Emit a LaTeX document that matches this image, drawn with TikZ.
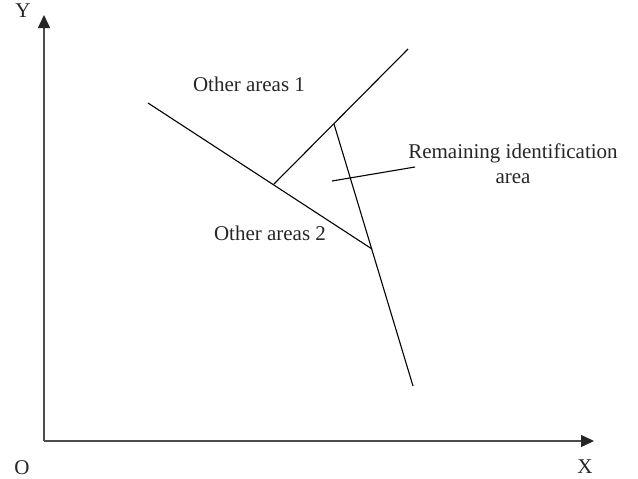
\documentclass[tikz,border=0pt]{standalone}
\usepackage{fontspec}
\setmainfont{Liberation Serif}
\usetikzlibrary{arrows.meta}
\begin{document}
\begin{tikzpicture}[x=1pt,y=-1pt,
  axis/.style={draw=black!70,line width=1.3pt,-{Triangle[length=13pt,width=12pt,color=black!85]}},
  seg/.style={draw=black,line width=1.1pt},
  lbl/.style={font=\fontsize{21}{25}\selectfont,text=black!85,inner sep=0pt,anchor=base}]
\useasboundingbox (0,0) rectangle (638,479);
\coordinate (o) at (44,441);
\coordinate (ytip) at (44,15);
\coordinate (xtip) at (594,441);
\draw[axis] (o) -- (ytip);
\draw[axis] (o) -- (xtip);
\node[lbl] (ly) at (23,17) {Y};
\node[lbl] (lo) at (22,474) {O};
\node[lbl] (lx) at (585,473) {X};
\coordinate (a1) at (148,103);
\coordinate (a2) at (372,249);
\coordinate (b1) at (274,184);
\coordinate (b2) at (408,49);
\coordinate (c1) at (334,124);
\coordinate (c2) at (413,386);
\coordinate (p1) at (332,181);
\coordinate (p2) at (415,167);
\draw[seg] (a1) -- (a2);
\draw[seg] (b1) -- (b2);
\draw[seg] (c1) -- (c2);
\draw[seg] (p1) -- (p2);
\node[lbl] (t1) at (249,91) {Other areas 1};
\node[lbl] (t2) at (270,240) {Other areas 2};
\node[lbl] (t3) at (513,158) {Remaining identification};
\node[lbl] (t4) at (513,183) {area};
\end{tikzpicture}
\end{document}
